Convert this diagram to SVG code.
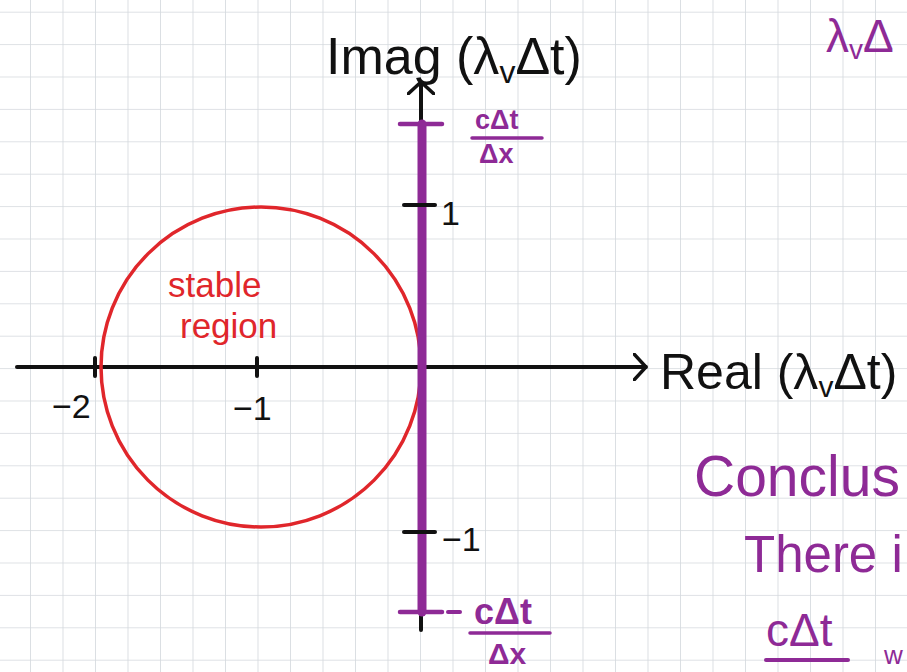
<svg xmlns="http://www.w3.org/2000/svg" width="907" height="672" viewBox="0 0 907 672">
<defs>
<pattern id="grid" x="30" y="11.7" width="32.5" height="32.4" patternUnits="userSpaceOnUse">
<path d="M0 0 V32.4 M0 0 H32.5" fill="none" stroke="#d3d8dd" stroke-width="1.6"/>
</pattern>
<marker id="chev" viewBox="0 0 14 28" refX="13" refY="14" markerWidth="14" markerHeight="28" markerUnits="userSpaceOnUse" orient="auto">
<path d="M1 1 L13 14 L1 27" fill="none" stroke="#111" stroke-width="3.5" stroke-linecap="round" stroke-linejoin="round"/>
</marker>
<style>
.ink{font-family:"Liberation Sans","Noto Sans",sans-serif;}
.blk{fill:#111;}
.pur{fill:#8e2a96;}
.red{fill:#e0262b;}
.axis{stroke:#111;stroke-width:4;fill:none;stroke-linecap:round;}
.ptick{stroke:#8e2a96;stroke-width:4.5;stroke-linecap:round;}
.btick{stroke:#111;stroke-width:4;stroke-linecap:round;}
</style>
</defs>
<rect width="907" height="672" fill="#ffffff"/>
<rect width="907" height="672" fill="url(#grid)"/>

<g id="connectors">
<line id="real-axis" class="axis" x1="17" y1="367" x2="646" y2="367" marker-end="url(#chev)"/>
<line id="imag-axis" class="axis" x1="421" y1="630" x2="421" y2="82" marker-end="url(#chev)"/>
</g>

<g id="stable-circle">
<circle cx="261" cy="367" r="160" fill="none" stroke="#e0262b" stroke-width="3.5"/>
<text class="ink red" x="168" y="297" font-size="35">stable</text>
<text class="ink red" x="180" y="338" font-size="35">region</text>
</g>

<g id="eigen-line">
<line x1="422" y1="124" x2="422" y2="612" stroke="#8e2a96" stroke-width="9" stroke-linecap="round"/>
<line class="ptick" x1="400" y1="124" x2="442" y2="124"/>
<line class="ptick" x1="400" y1="612" x2="442" y2="612"/>
</g>

<g id="ticks">
<line class="btick" x1="95" y1="358" x2="95" y2="376"/>
<line class="btick" x1="257" y1="358" x2="257" y2="376"/>
<line class="btick" x1="404" y1="205" x2="435" y2="205"/>
<line class="btick" x1="404" y1="532" x2="435" y2="532"/>
<text class="ink blk" x="52" y="418" font-size="34">−2</text>
<text class="ink blk" x="233" y="420" font-size="34">−1</text>
<text class="ink blk" x="441" y="225" font-size="34">1</text>
<text class="ink blk" x="442" y="551" font-size="34">−1</text>
</g>

<g id="imag-label">
<text class="ink blk" x="326" y="74" font-size="52">Imag (λ<tspan font-size="32" dy="9">v</tspan><tspan dy="-9">Δt)</tspan></text>
</g>

<g id="real-label">
<text class="ink blk" x="660" y="389" font-size="50">Real (λ<tspan font-size="30" dy="8">v</tspan><tspan dy="-8">Δt)</tspan></text>
</g>

<g id="upper-bound">
<text class="ink pur" x="475" y="129" font-size="27" font-weight="bold">cΔt</text>
<line x1="472" y1="138" x2="542" y2="138" stroke="#8e2a96" stroke-width="3.5" stroke-linecap="round"/>
<text class="ink pur" x="479" y="163" font-size="27" font-weight="bold">Δx</text>
</g>

<g id="lower-bound">
<line x1="448" y1="612" x2="460" y2="612" stroke="#8e2a96" stroke-width="4" stroke-linecap="round"/>
<text class="ink pur" x="474" y="624" font-size="36" font-weight="bold">cΔt</text>
<line x1="470" y1="633" x2="550" y2="633" stroke="#8e2a96" stroke-width="3.5" stroke-linecap="round"/>
<text class="ink pur" x="488" y="664" font-size="30" font-weight="bold">Δx</text>
</g>

<g id="notes">
<text class="ink pur" x="826" y="52" font-size="46">λ<tspan font-size="28" dy="7">v</tspan><tspan dy="-7">Δ</tspan></text>
<text class="ink pur" x="694" y="496" font-size="57">Conclus</text>
<text class="ink pur" x="744" y="572" font-size="51">There i</text>
<text class="ink pur" x="766" y="646" font-size="46">cΔt</text>
<line x1="766" y1="660" x2="848" y2="660" stroke="#8e2a96" stroke-width="4" stroke-linecap="round"/>
<text class="ink pur" x="884" y="664" font-size="26">w</text>
</g>
</svg>
